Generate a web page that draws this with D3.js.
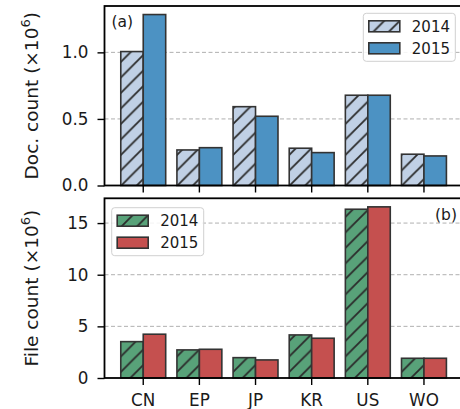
<!DOCTYPE html>
<html lang="en">
<head>
<meta charset="UTF-8">
<title>Doc and file counts</title>
<style>
  body { margin: 0; background: #fff; }
  text { font-family: "DejaVu Sans", sans-serif; fill: #1a1a1a; }
  .axis path { display: none; }
  .axis line { stroke: #000; stroke-width: 1.4; }
  .axis text { font-size: 16.8px; }
  .grid line { stroke: #b0b0b0; stroke-width: 1; stroke-dasharray: 4,2.5; }
  .frame { fill: none; stroke: #000; stroke-width: 1.8; }
  .bar { stroke: #333; stroke-width: 1.6; }
</style>
</head>
<body>
<svg height="409" width="460"></svg>

<script src="https://d3js.org/d3.v7.min.js"></script>
<script>

var offices = ["CN", "EP", "JP", "KR", "US", "WO"];
var years = ["2014", "2015"];

var docs2014 = [1.006, 0.267, 0.592, 0.280, 0.678, 0.235];
var docs2015 = [1.284, 0.284, 0.520, 0.247, 0.678, 0.222];

var files2014 = [3.52, 2.72, 1.97, 4.17, 16.34, 1.91];
var files2015 = [4.24, 2.78, 1.75, 3.85, 16.57, 1.91];

var docTicks = [0, 0.5, 1.0];
var fileTicks = [0, 5, 10, 15];

var translate = function(x, y) {
  return "translate(" + x + "," + y + ")";
}

var svg = d3.select("svg");

var left = 104.5, right = 462.7;

var x = d3.scaleBand()
  .domain(offices)
  .range([left, right])
  .paddingInner(0.2)
  .paddingOuter(0.29);

var xYear = d3.scaleBand()
  .domain(years)
  .range([0, x.bandwidth()]);

// hatch patterns for the 2014 bars
var defs = svg.append("defs");
var hatch = function(id, bg) {
  var s = 15.5;
  var p = defs.append("pattern")
    .attr("id", id)
    .attr("patternUnits", "userSpaceOnUse")
    .attr("width", s)
    .attr("height", s);
  p.append("rect").attr("width", s).attr("height", s).attr("fill", bg);
  p.append("path")
    .attr("d", "M-2,2 l4,-4 M0," + s + " l" + s + "," + (-s) + " M" + (s - 2) + "," + (s + 2) + " l4,-4")
    .attr("stroke", "#2b2b2b")
    .attr("stroke-width", 1.8);
}
hatch("hatchBlue", "#c0d0e5");
hatch("hatchGreen", "#58a279");

var panels = [
  { top: 6, bottom: 185.5, v2014: docs2014, v2015: docs2015, ticks: docTicks, fmt: d3.format(".1f"),
    fill2014: "url(#hatchBlue)", fill2015: "#4c92c3", label: "Doc. count (×10", tag: "(a)",
    showX: false },
  { top: 198.3, bottom: 378, v2014: files2014, v2015: files2015, ticks: fileTicks, fmt: d3.format("d"),
    fill2014: "url(#hatchGreen)", fill2015: "#c5504f", label: "File count (×10", tag: "(b)",
    showX: true }
];

panels.forEach(function(p, k) {
  var maxVal = d3.max(p.v2014.concat(p.v2015));
  var y = d3.scaleLinear()
    .domain([0, maxVal * 1.05])
    .range([p.bottom, p.top]);

  var g = svg.append("g");

  // grid
  g.append("g")
    .attr("class", "grid")
    .selectAll("line")
    .data(p.ticks.filter(function(t) { return t > 0; }))
    .enter()
    .append("line")
    .attr("x1", left)
    .attr("x2", right)
    .attr("y1", function(d) { return y(d); })
    .attr("y2", function(d) { return y(d); });

  var rows = offices.map(function(o, i) {
    return { office: o, values: [p.v2014[i], p.v2015[i]] };
  });

  var groups = g.selectAll(".office")
    .data(rows)
    .enter()
    .append("g")
    .attr("transform", function(d) { return translate(x(d.office), 0); });

  groups.selectAll("rect")
    .data(function(d) { return d.values.map(function(v, j) { return { year: years[j], value: v }; }); })
    .enter()
    .append("rect")
    .attr("class", "bar")
    .attr("x", function(d) { return xYear(d.year); })
    .attr("width", xYear.bandwidth())
    .attr("y", function(d) { return y(d.value); })
    .attr("height", function(d) { return p.bottom - y(d.value); })
    .attr("fill", function(d) { return d.year == "2014" ? p.fill2014 : p.fill2015; });

  // axes
  var yAxis = d3.axisLeft(y).tickValues(p.ticks).tickFormat(p.fmt).tickSize(7).tickPadding(9);
  g.append("g")
    .attr("class", "y axis")
    .attr("transform", translate(left, 0))
    .call(yAxis);

  var xAxis = d3.axisBottom(x).tickSize(7).tickPadding(9);
  var xg = g.append("g")
    .attr("class", "x axis")
    .attr("transform", translate(0, p.bottom))
    .call(xAxis);
  if (!p.showX) xg.selectAll("text").remove();

  g.append("rect")
    .attr("class", "frame")
    .attr("x", left)
    .attr("y", p.top)
    .attr("width", right - left)
    .attr("height", p.bottom - p.top);

  // axis label
  var lab = g.append("text")
    .attr("transform", translate(37.5, (p.top + p.bottom) / 2) + " rotate(-90)")
    .attr("text-anchor", "middle")
    .style("font-size", "18.5px");
  lab.append("tspan").text(p.label);
  lab.append("tspan").attr("dy", -7.5).style("font-size", "13px").text("6");
  lab.append("tspan").attr("dy", 7.5).text(")");

  // panel tag
  g.append("text")
    .attr("x", k == 0 ? 111.5 : 457)
    .attr("y", k == 0 ? 26.5 : 219.5)
    .attr("text-anchor", k == 0 ? "start" : "end")
    .style("font-size", "15.5px")
    .text(p.tag);

  // legend
  var lx = k == 0 ? 363.3 : 111.7;
  var ly = k == 0 ? 13.3 : 207.7;
  var leg = g.append("g").attr("transform", translate(lx, ly));
  leg.append("rect")
    .attr("width", 92)
    .attr("height", 48)
    .attr("rx", 3)
    .attr("fill", "#fff")
    .attr("fill-opacity", 0.85)
    .attr("stroke", "#d0d0d0")
    .attr("stroke-width", 1);
  var items = leg.selectAll(".item")
    .data(years)
    .enter()
    .append("g")
    .attr("transform", function(d, i) { return translate(5.5, 7.5 + i * 22); });
  items.append("rect")
    .attr("class", "bar")
    .attr("width", 31)
    .attr("height", 11)
    .attr("fill", function(d) { return d == "2014" ? p.fill2014 : p.fill2015; });
  items.append("text")
    .attr("x", 43)
    .attr("y", 11)
    .style("font-size", "15px")
    .text(function(d) { return d; });
});

</script>
</body>
</html>
